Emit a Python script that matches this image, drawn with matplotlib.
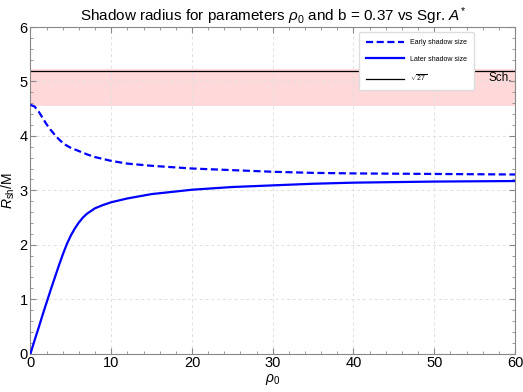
import matplotlib
matplotlib.use("Agg")
import matplotlib.pyplot as plt
import numpy as np

plt.rcParams['font.family'] = ['Liberation Sans', 'DejaVu Sans']
plt.rcParams['mathtext.fontset'] = 'custom'
plt.rcParams['mathtext.rm'] = 'Liberation Sans'
plt.rcParams['mathtext.it'] = 'Liberation Sans:italic'

rho_early = [0, 0.5, 1, 1.5, 2, 2.5, 3, 3.5, 4, 4.5, 5, 5.5, 6, 7, 8, 10, 12, 15, 20, 25, 30, 35, 40, 50, 60]
r_early = [4.57, 4.54, 4.45, 4.33, 4.21, 4.11, 4.02, 3.94, 3.87, 3.82, 3.78, 3.75, 3.72, 3.66, 3.61, 3.54,
           3.49, 3.45, 3.40, 3.37, 3.34, 3.32, 3.31, 3.30, 3.29]

rho_late = [0, 0.5, 1, 1.5, 2, 2.5, 3, 3.5, 4, 4.5, 5, 5.5, 6, 6.5, 7, 7.5, 8, 9, 10, 12, 15, 20, 25, 30,
            35, 40, 50, 60]
r_late = [0, 0.24, 0.47, 0.71, 0.94, 1.17, 1.39, 1.61, 1.82, 2.01, 2.17, 2.30, 2.41, 2.50, 2.57, 2.62,
          2.67, 2.73, 2.78, 2.85, 2.93, 3.01, 3.06, 3.09, 3.12, 3.14, 3.16, 3.17]

band_low, band_high = 4.55, 5.22
r_sch = np.sqrt(27)

fig = plt.figure(figsize=(5.23, 3.92), dpi=100)
ax = fig.add_axes([0.0583, 0.0982, 0.9264, 0.8328])

ax.axhspan(band_low, band_high, color=(1.0, 0.85, 0.85), lw=0, zorder=1)
ax.plot(rho_early, r_early, color='blue', lw=1.6, ls=(0, (3.2, 1.6)), label='Early shadow size', zorder=3)
ax.plot(rho_late, r_late, color='blue', lw=1.6, label='Later shadow size', zorder=3)
ax.axhline(r_sch, color='black', lw=0.9, label=r'$\sqrt{27}$', zorder=2)
ax.text(59.6, r_sch - 0.03, 'Sch.', ha='right', va='top', fontsize=8.5)

ax.set_xlim(0, 60)
ax.set_ylim(0, 6)
ax.set_xticks(np.arange(0, 61, 10))
ax.set_yticks(np.arange(0, 7, 1))
ax.set_xticks(np.arange(0, 61, 2), minor=True)
ax.set_yticks(np.arange(0, 6.01, 0.2), minor=True)
ax.tick_params(which='both', direction='in', top=True, right=True, color='#888888', labelsize=10.5, pad=2)
ax.tick_params(which='major', length=4)
ax.tick_params(which='minor', length=2)
for s in ax.spines.values():
    s.set_color('#888888')
ax.grid(True, which='major', color='#e0e0e0', ls=(0, (3, 3)), lw=0.7, zorder=0)

ax.set_title(r'Shadow radius for parameters $\rho_0$ and b = 0.37 vs Sgr. $A^{*}$', fontsize=11, pad=4)
ax.set_xlabel(r'$\rho_0$', fontsize=10, labelpad=1)
ax.set_ylabel(r'$R_{\rm sh}$/M', fontsize=10, labelpad=2)

leg = ax.legend(loc='upper right', bbox_to_anchor=(0.922, 0.995), fontsize=5, frameon=True,
                fancybox=True, framealpha=1, edgecolor='#dddddd', handlelength=5.5,
                borderpad=1.0, labelspacing=1.4)

fig.savefig('out.png', dpi=100)
